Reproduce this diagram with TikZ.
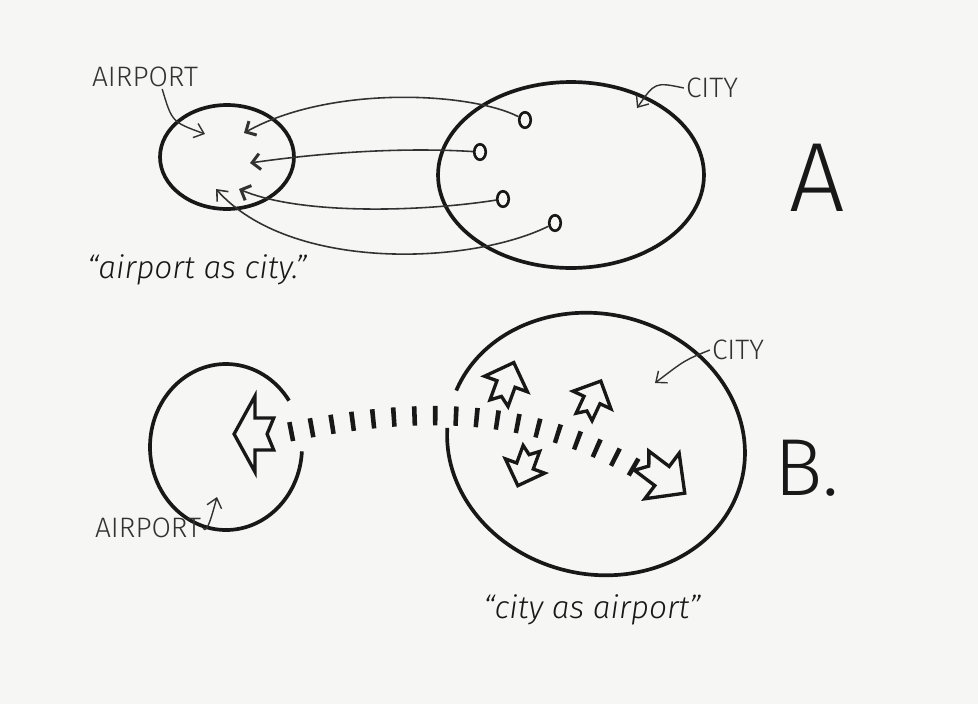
\documentclass[tikz,border=0pt]{standalone}
\usepackage{fontspec}
\newfontfamily\handfont{Fira Sans}[UprightFont={* Light},ItalicFont={* Light Italic}]
\usepackage{tikz}
\usetikzlibrary{
  arrows.meta,
  positioning,
  shapes.geometric
}
\definecolor{PaperGray}{RGB}{246,246,245}
\definecolor{InkBlack}{RGB}{24,24,24}
\definecolor{PencilGray}{RGB}{50,50,50}
\tikzset{
  airloop/.style={shape=ellipse,draw=InkBlack,line width=2.1pt,inner sep=0pt},
  stopnode/.style={shape=ellipse,draw=InkBlack,line width=1.5pt,minimum width=2.3mm,minimum height=3.1mm,inner sep=0pt},
  loopline/.style={draw=InkBlack,line width=2.1pt},
  flowline/.style={draw=PencilGray,line width=0.9pt},
  hookarrow/.style={flowline,-{Straight Barb[length=1.6mm,width=3.2mm,line width=1.7pt]}},
  notearrow/.style={draw=PencilGray,line width=0.8pt,-{Straight Barb[length=1.8mm,width=3mm]}},
  tierail/.style={draw=InkBlack,line width=11pt,dash pattern=on 2.6pt off 9.2pt},
  blockline/.style={draw=InkBlack,line width=1.9pt,line join=miter},
  capsnote/.style={font=\handfont\fontsize{16}{18}\selectfont,text=PencilGray,inner sep=1pt},
  quotenote/.style={font=\handfont\itshape\fontsize{18}{20}\selectfont,text=InkBlack,inner sep=1pt},
  bigletter/.style={font=\handfont\fontsize{56}{60}\selectfont,text=InkBlack,inner sep=0pt},
  pics/blockarrow/.style={code={
    \draw[blockline] (0,-19) -- (19,0) -- (8,0) -- (8,17) -- (0,11) -- (-8,17) -- (-8,0) -- (-19,0) -- cycle;
  }}
}

\begin{document}
\begin{tikzpicture}[x=0.02cm,y=-0.02cm]
\fill[PaperGray] (0,0) rectangle (978,704);
\useasboundingbox (0,0) rectangle (978,704);

% A: airport as city
\node[airloop,minimum width=2.68cm,minimum height=2.08cm] (airA) at (227,157) {};
\node[airloop,minimum width=5.32cm,minimum height=3.72cm] (cityA) at (571,175) {};
\node[stopnode] (p1) at (525,120) {};
\node[stopnode] (p2) at (480,152) {};
\node[stopnode] (p3) at (503,199) {};
\node[stopnode] (p4) at (555,223) {};
\coordinate (g1) at (244,133);
\coordinate (g2) at (250,163);
\coordinate (g3) at (239,189);
\coordinate (g4) at (216,189);
\draw[hookarrow] (p1) .. controls (470,92) and (330,85) .. (g1);
\draw[hookarrow] (p2) .. controls (400,147) and (320,153) .. (g2);
\draw[hookarrow] (p3) .. controls (420,212) and (300,215) .. (g3);
\draw[notearrow,line width=0.9pt] (p4) .. controls (470,265) and (290,272) .. (g4);

\node[capsnote] (lblAirA) at (145,77) {AIRPORT};
\coordinate (airApt) at (205,134);
\draw[notearrow] (lblAirA.-35) .. controls (172,122) .. (airApt);
\node[capsnote] (lblCityA) at (712,88) {CITY};
\coordinate (cityApt) at (637,108);
\draw[notearrow] (lblCityA.west) .. controls (655,82) .. (cityApt);
\node[bigletter] (tagA) at (817,178) {A};
\node[quotenote] (quoteA) at (197,270) {“airport as city.”};

% B: city as airport
\coordinate (airB) at (226,447);
\draw[loopline] (airB) ++(3:76 and 83) arc[start angle=3,end angle=326,x radius=76,y radius=83];
\coordinate (cityB) at (596,444);
\draw[loopline,rotate around={-14:(cityB)}] (cityB) ++(188:150 and 130) arc[start angle=188,end angle=531,x radius=150,y radius=130];

\coordinate (tieStart) at (289,432);
\coordinate (tieEnd) at (637,469);
\draw[tierail] (tieStart) .. controls (400,410) and (520,400) .. (tieEnd);

\pic[rotate=90,xscale=2,yscale=1.1] (gateArrow) at (255,434) {blockarrow};
\pic[rotate=-20,scale=1.2] (upLeft) at (506,384) {blockarrow};
\pic[rotate=-25,scale=1.1] (upRight) at (592,400) {blockarrow};
\pic[rotate=160,scale=1.1] (downLeft) at (525,466) {blockarrow};
\pic[rotate=233,scale=1.5] (downRight) at (662,476) {blockarrow};

\node[capsnote] (lblCityB) at (738,350) {CITY};
\coordinate (cityBpt) at (655,383);
\draw[notearrow] (lblCityB.west) .. controls (685,360) .. (cityBpt);
\node[capsnote] (lblAirB) at (148,528) {AIRPORT};
\coordinate (airBpt) at (217,497);
\draw[notearrow] (lblAirB.east) .. controls (207,535) and (212,515) .. (airBpt);
\node[bigletter,font=\handfont\fontsize{46}{50}\selectfont] (tagB) at (807,468) {B.};
\node[quotenote] (quoteB) at (592,610) {“city as airport”};
\end{tikzpicture}
\end{document}
